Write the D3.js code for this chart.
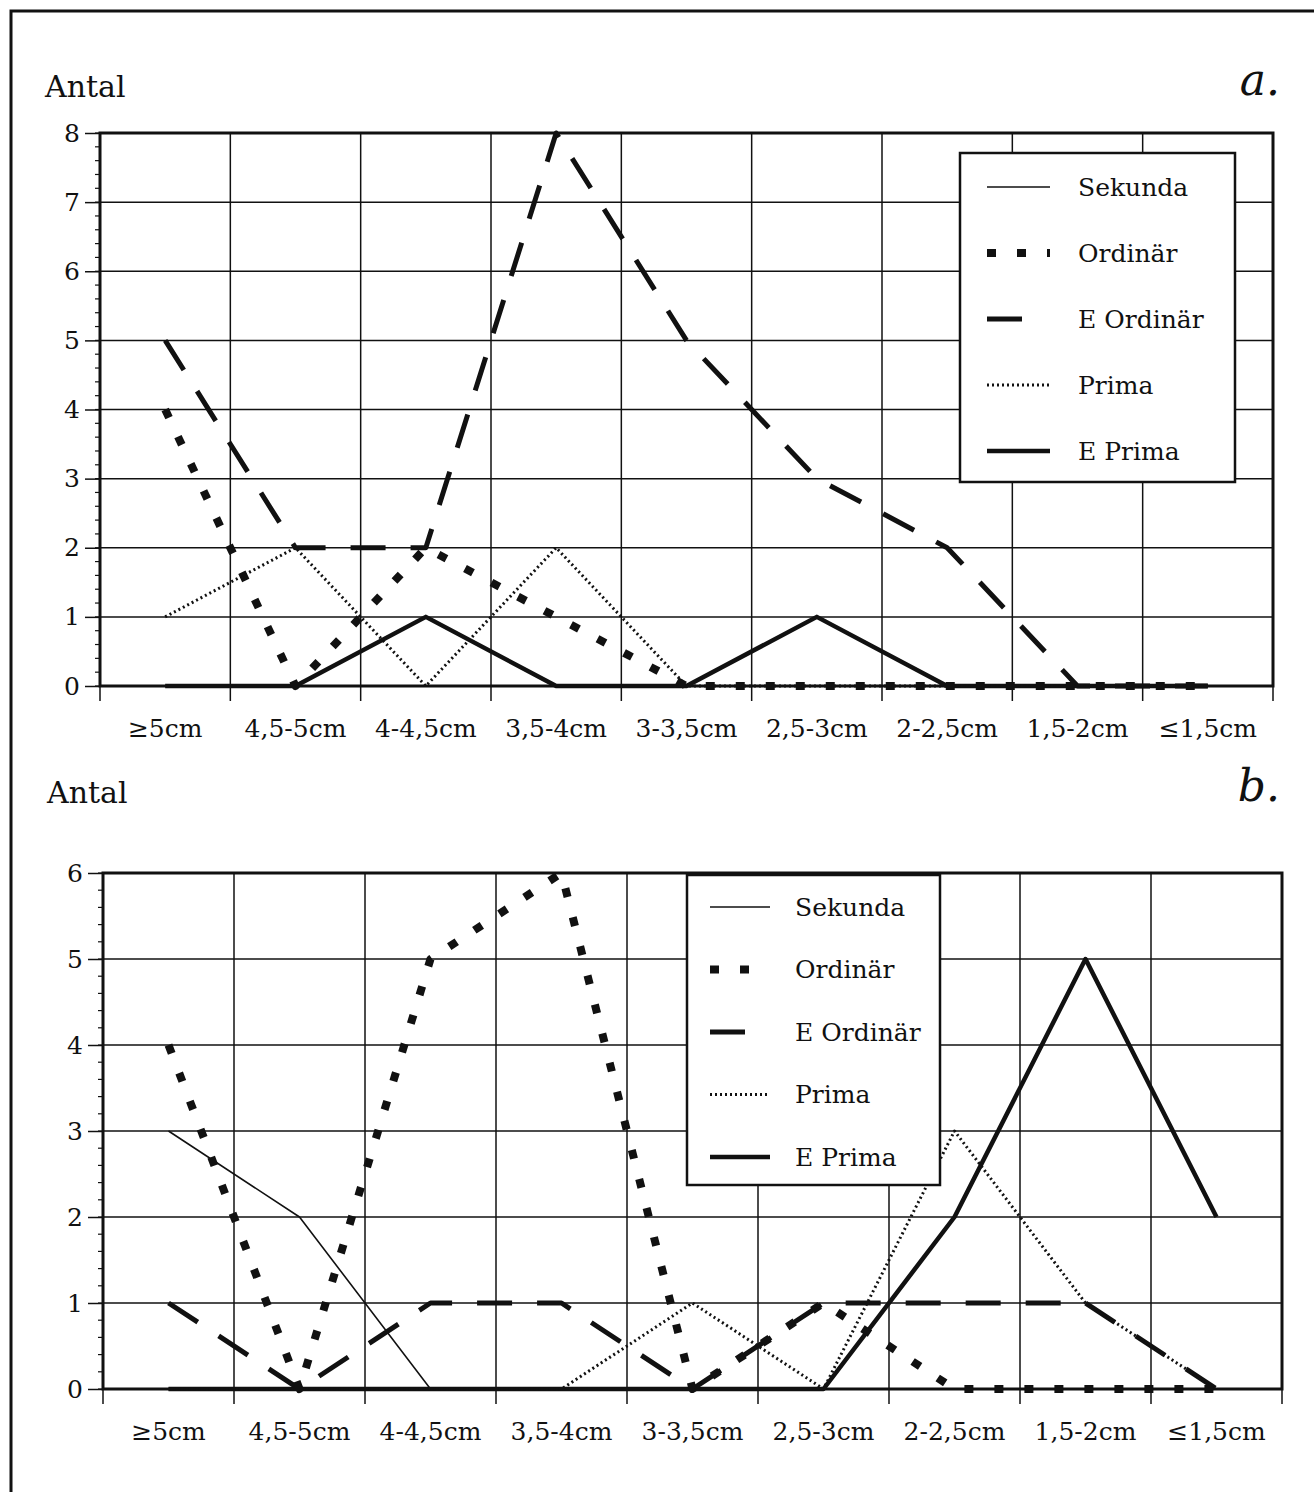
<!DOCTYPE html>
<html>
<head>
<meta charset="utf-8">
<script src="https://cdn.jsdelivr.net/npm/d3@7"></script>
<style>
  body { margin: 0; background: #fff; }
</style>
</head>
<body>
<svg id="svg" width="1314" height="1492"></svg>
<script>
// categories + values
var categories = ["≥5cm", "4,5-5cm", "4-4,5cm", "3,5-4cm", "3-3,5cm", "2,5-3cm", "2-2,5cm", "1,5-2cm", "≤1,5cm"];
var seriesNames = ["Sekunda", "Ordinär", "E Ordinär", "Prima", "E Prima"];

// panel a
var aSekunda  = [0, 0, 0, 0, 0, 0, 0, 0, 0];
var aOrdinar  = [4, 0, 2, 1, 0, 0, 0, 0, 0];
var aEOrdinar = [5, 2, 2, 8, 5, 3, 2, 0, 0];
var aPrima    = [1, 2, 0, 2, 0, 0, 0, 0, 0];
var aEPrima   = [0, 0, 1, 0, 0, 1, 0, 0, 0];
var aTicks = [0, 1, 2, 3, 4, 5, 6, 7, 8];

// panel b
var bSekunda  = [3, 2, 0, 0, 0, 0, 0, 0, 0];
var bOrdinar  = [4, 0, 5, 6, 0, 1, 0, 0, 0];
var bEOrdinar = [1, 0, 1, 1, 0, 1, 1, 1, 0];
var bPrima    = [0, 0, 0, 0, 1, 0, 3, 1, 0];
var bEPrima   = [0, 0, 0, 0, 0, 0, 2, 5, 2];
var bTicks = [0, 1, 2, 3, 4, 5, 6];

// line looks, by series
var styles = {
  "Sekunda":   { w: 1.6, dash: null },
  "Ordinär":   { w: 8,   dash: "9,21" },
  "E Ordinär": { w: 5,   dash: "35,25" },
  "Prima":     { w: 3,   dash: "2,3" },
  "E Prima":   { w: 4.5, dash: null }
};

var FONT = "'DejaVu Serif', 'Liberation Serif', serif";

var svg = d3.select("#svg");

// outer frame
svg.append("path")
  .attr("d", "M11,1492 L11,11 L1320,11")
  .attr("fill", "none")
  .attr("stroke", "#111")
  .attr("stroke-width", 3);

var drawPanel = function(p) {
  var g = svg.append("g");

  var x = d3.scaleBand().domain(categories).range([p.left, p.right]);
  var y = d3.scaleLinear().domain([0, d3.max(p.ticks)]).range([p.bottom, p.top]);

  // boundaries of each category column
  var bounds = categories.map(function(c) { return x(c); }).concat([p.right]);

  //////// GRID ////////
  g.selectAll(".hgrid").data(p.ticks).enter().append("line")
    .attr("x1", p.left).attr("x2", p.right)
    .attr("y1", function(d) { return y(d); })
    .attr("y2", function(d) { return y(d); })
    .attr("stroke", "#111").attr("stroke-width", 1.5);

  g.selectAll(".vgrid").data(bounds).enter().append("line")
    .attr("x1", function(d) { return d; })
    .attr("x2", function(d) { return d; })
    .attr("y1", p.top).attr("y2", p.bottom + 15)
    .attr("stroke", "#111").attr("stroke-width", 1.5);

  // minor ticks on the value axis
  g.selectAll(".minor").data(d3.range(0, d3.max(p.ticks) + 0.001, 0.2)).enter().append("line")
    .attr("x1", p.left - 5).attr("x2", p.left)
    .attr("y1", function(d) { return y(d); })
    .attr("y2", function(d) { return y(d); })
    .attr("stroke", "#111").attr("stroke-width", 1.2);

  // y axis
  var yAxis = d3.axisLeft(y).tickValues(p.ticks).tickSize(15).tickPadding(5).tickFormat(d3.format("d"));
  var ya = g.append("g").attr("transform", "translate(" + p.left + ",0)").call(yAxis);
  ya.select(".domain").remove();
  ya.selectAll("line").attr("stroke", "#111").attr("stroke-width", 1.5);
  ya.selectAll("text").style("font-family", FONT).style("font-size", "25px").attr("fill", "#111");

  // x labels
  var xAxis = d3.axisBottom(x).tickSize(0).tickPadding(0);
  var xa = g.append("g").attr("transform", "translate(0," + (p.bottom + 33) + ")").call(xAxis);
  xa.select(".domain").remove();
  xa.selectAll("text").style("font-family", FONT).style("font-size", "25px").attr("fill", "#111").attr("dy", "0.71em");

  // plot frame
  g.append("path")
    .attr("d", "M" + p.left + "," + p.top + " H" + p.right + " V" + p.bottom + " H" + p.left + " Z")
    .attr("fill", "none").attr("stroke", "#111").attr("stroke-width", 3);

  //////// LINES ////////
  var line = d3.line()
    .x(function(d, i) { return x(categories[i]) + x.bandwidth() / 2; })
    .y(function(d) { return y(d); });

  var order = [0, 4, 2, 3, 1];
  order.forEach(function(k) {
    var name = seriesNames[k];
    var st = styles[name];
    g.append("path")
      .datum(p.series[k])
      .attr("d", line)
      .attr("fill", "none")
      .attr("stroke", "#111")
      .attr("stroke-width", st.w)
      .attr("stroke-dasharray", st.dash)
      .attr("stroke-linejoin", "round");
  });

  //////// LEGEND ////////
  var lg = g.append("g");
  lg.append("rect")
    .attr("x", p.legend.x).attr("y", p.legend.y)
    .attr("width", p.legend.w).attr("height", p.legend.h)
    .attr("fill", "#fff").attr("stroke", "#111").attr("stroke-width", 2.5);

  var rows = lg.selectAll(".row").data(seriesNames).enter().append("g")
    .attr("transform", function(d, i) { return "translate(0," + (p.legend.y + p.legend.first + i * p.legend.step) + ")"; });

  rows.append("line")
    .attr("x1", p.legend.x + p.legend.lx)
    .attr("x2", function(d) { return p.legend.x + p.legend.lx + (d === "E Ordinär" ? 38 : p.legend.len); })
    .attr("y1", 0).attr("y2", 0)
    .attr("stroke", "#111")
    .attr("stroke-width", function(d) { return styles[d].w; })
    .attr("stroke-dasharray", function(d) { return styles[d].dash; });

  rows.append("text")
    .attr("x", p.legend.x + p.legend.tx)
    .attr("dy", "0.35em")
    .style("font-family", FONT)
    .style("font-size", "25px")
    .attr("fill", "#111")
    .text(function(d) { return d; });

  // titles
  g.append("text").attr("x", p.antalX).attr("y", p.antalY)
    .style("font-family", FONT).style("font-size", "30px").attr("fill", "#111")
    .text("Antal");
  g.append("text").attr("x", 1280).attr("y", p.antalY - 2)
    .attr("text-anchor", "end")
    .style("font-family", FONT).style("font-size", "44px").style("font-style", "italic")
    .attr("fill", "#111")
    .text(p.letter);
};

drawPanel({
  left: 100, right: 1273, top: 133, bottom: 686,
  ticks: aTicks,
  series: [aSekunda, aOrdinar, aEOrdinar, aPrima, aEPrima],
  legend: { x: 960, y: 153, w: 275, h: 329, first: 34, step: 66, lx: 27, len: 63, tx: 118 },
  antalX: 45, antalY: 97, letter: "a."
});

drawPanel({
  left: 103, right: 1282, top: 873, bottom: 1389,
  ticks: bTicks,
  series: [bSekunda, bOrdinar, bEOrdinar, bPrima, bEPrima],
  legend: { x: 687, y: 875, w: 253, h: 310, first: 32, step: 62.5, lx: 23, len: 60, tx: 108 },
  antalX: 47, antalY: 803, letter: "b."
});
</script>
</body>
</html>
